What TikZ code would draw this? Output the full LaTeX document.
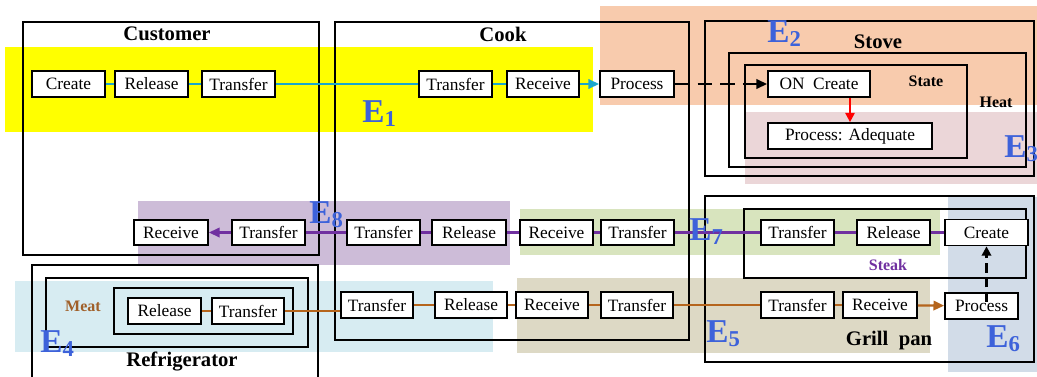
\documentclass[tikz,border=0pt]{standalone}
\usepackage{fontspec}
\setmainfont{Liberation Serif}
\usetikzlibrary{fit,arrows.meta}
\definecolor{cyanl}{HTML}{1AA6CC}
\definecolor{purl}{HTML}{7030A0}
\definecolor{brnl}{HTML}{B5651D}
\definecolor{elab}{HTML}{3D62DA}
\definecolor{bgyel}{HTML}{FFFF00}
\definecolor{bgora}{HTML}{F8CBAD}
\definecolor{bgpink}{HTML}{EBD6D8}
\definecolor{bgpur}{HTML}{CDBCD8}
\definecolor{bggrn}{HTML}{D8E4BE}
\definecolor{bgblu}{HTML}{D7ECF2}
\definecolor{bgtan}{HTML}{DDD9C5}
\definecolor{bggry}{HTML}{D2DCE8}
\definecolor{meatc}{HTML}{A0602A}
\newcommand\elbl[1]{E\raisebox{-0.3ex}{\fontsize{17}{17}\selectfont #1}}
\tikzset{
  pbox/.style={draw, fill=white, line width=1.3pt, inner sep=0pt, font=\fontsize{13}{14}\selectfont},
  wh/.style 2 args={minimum width=#1*0.75pt, minimum height=#2*0.75pt},
  cont/.style={draw, line width=1.3pt, inner sep=0pt},
  ttl/.style={font=\fontsize{15.5}{16}\selectfont\bfseries, inner sep=0pt},
  sttl/.style={font=\fontsize{12}{13}\selectfont\bfseries, inner sep=0pt},
  elabel/.style={font=\fontsize{25}{26}\selectfont\bfseries, text=elab, anchor=base west, inner sep=0pt},
  cyanc/.style={draw=cyanl, line width=1.7pt},
  purc/.style={draw=purl, line width=1.7pt},
  brnc/.style={draw=brnl, line width=1.7pt},
  tip/.style={-{Triangle[length=8pt,width=7pt]}}
}
\begin{document}
\begin{tikzpicture}[x=0.75pt,y=-0.75pt]
\useasboundingbox (0,0) rectangle (1037,376);
% backgrounds
\fill[bgora] (600,6) rectangle (1037,105);
\fill[bgpink] (745,112) rectangle (1037,184);
\fill[bgyel] (5,47) rectangle (593,132);
\fill[bgpur] (138,201) rectangle (510,265);
\fill[bggrn] (520,209) rectangle (940,255);
\fill[bgblu] (15,281) rectangle (493,352);
\fill[bgtan] (517,278) rectangle (930,353);
\fill[bggry] (948,197) rectangle (1037,372);
% containers
\node[cont, fit={(23,22)(319,255)}] (customer) {};
\node[cont, fit={(335,22)(689,340)}] (cook) {};
\node[cont, fit={(705,21)(1034,176)}] (stove) {};
\node[cont, fit={(729,53)(1026,167)}] (heat) {};
\node[cont, fit={(745,65)(967,158)}] (state) {};
\node[cont, fit={(705,196)(1034,362)}] (grill) {};
\node[cont, fit={(744,209)(1026,278)}] (steak) {};
\draw[line width=1.3pt] (32,378) -- (32,265) -- (318,265) -- (318,378);
\node[cont, fit={(46,278)(308,347)}] (meat) {};
\node[cont, fit={(114,288)(293,334)}] (meatin) {};
% row 1
\node[pbox, wh={73}{26}] (a1) at (68.5,84) {Create};
\node[pbox, wh={73}{26}] (a2) at (151.5,84) {Release};
\node[pbox, wh={73}{26}] (a3) at (238.5,84) {Transfer};
\node[pbox, wh={73}{26}] (a4) at (455.5,84) {Transfer};
\node[pbox, wh={72}{26}] (a5) at (543,84) {Receive};
\node[pbox, wh={74}{26}] (a6) at (637,84) {Process};
\node[pbox, wh={102}{26}] (onc) at (819,84) {ON\ \ Create};
\node[pbox, wh={164}{26}] (pad) at (850,136) {Process: Adequate};
% row 2
\node[pbox, wh={74}{25}] (b1) at (171,232.5) {Receive};
\node[pbox, wh={73}{25}] (b2) at (268.5,232.5) {Transfer};
\node[pbox, wh={73}{25}] (b3) at (383.5,232.5) {Transfer};
\node[pbox, wh={74}{25}] (b4) at (469,232.5) {Release};
\node[pbox, wh={73}{25}] (b5) at (556.5,232.5) {Receive};
\node[pbox, wh={73}{25}] (b6) at (637.5,232.5) {Transfer};
\node[pbox, wh={73}{25}] (b7) at (797.5,232.5) {Transfer};
\node[pbox, wh={73}{25}] (b8) at (893.5,232.5) {Release};
\node[pbox, wh={83}{26}] (b9) at (986.5,232.5) {Create};
% row 3
\node[pbox, wh={73}{26}] (c1) at (164.5,311) {Release};
\node[pbox, wh={72}{26}] (c2) at (248,311) {Transfer};
\node[pbox, wh={72}{26}] (c3) at (377,305) {Transfer};
\node[pbox, wh={72}{26}] (c4) at (471,305) {Release};
\node[pbox, wh={72}{26}] (c5) at (552,305) {Receive};
\node[pbox, wh={72}{26}] (c6) at (637,305) {Transfer};
\node[pbox, wh={73}{26}] (c7) at (797.5,305) {Transfer};
\node[pbox, wh={74}{26}] (c8) at (880,305) {Receive};
\node[pbox, wh={73}{26}] (c9) at (981.5,306) {Process};
% connectors row 1
\draw[cyanc] (a1) -- (a2);
\draw[cyanc] (a2) -- (a3);
\draw[cyanc] (a3) -- (a4);
\draw[cyanc] (a4) -- (a5);
\draw[cyanc, tip] (a5) -- (a6);
\draw[line width=1.7pt, dash pattern=on 11pt off 6pt, tip] (a6) -- (onc);
\draw[red, line width=1.5pt, -{Triangle[length=7pt,width=7pt]}] (onc.south -| pad.north) -- (pad.north);
% connectors row 2
\draw[purc] (b9) -- (b8);
\draw[purc] (b8) -- (b7);
\draw[purc] (b7) -- (b6);
\draw[purc] (b6) -- (b5);
\draw[purc] (b5) -- (b4);
\draw[purc] (b4) -- (b3);
\draw[purc] (b3) -- (b2);
\draw[purc, tip] (b2) -- (b1);
% connectors row 3
\draw[brnc] (c1) -- (c2);
\draw[brnc] (c2.east) -- (c2.east -| c3.west);
\draw[brnc] (c3) -- (c4);
\draw[brnc] (c4) -- (c5);
\draw[brnc] (c5) -- (c6);
\draw[brnc] (c6) -- (c7);
\draw[brnc] (c7) -- (c8);
\draw[brnc, tip] (c8) -- (c9);
\draw[line width=1.7pt, dash pattern=on 7pt off 4pt, -{Triangle[length=7pt,width=7pt]}] ([yshift=-7.5pt]c9.north -| b9.south) -- (b9.south);
% titles
\node[ttl] (tcust) at (167,34) {Customer};
\node[ttl] (tcook) at (503,34) {Cook};
\node[ttl] (tstove) at (878,42) {Stove};
\node[sttl] (tstate) at (926,81) {State};
\node[sttl] (theat) at (996,102) {Heat};
\node[sttl, text=purl] (tsteak) at (888,265) {Steak};
\node[ttl] (tgrill) at (889,341) {Grill\ \ pan};
\node[sttl, text=meatc] (tmeat) at (83,306) {Meat};
\node[ttl] (tfridge) at (182,361) {Refrigerator};
% E labels
\node[elabel] (e1) at (362,122) {\elbl{1}};
\node[elabel] (e2) at (767,42) {\elbl{2}};
\node[elabel] (e3) at (1004,157) {\elbl{3}};
\node[elabel] (e4) at (40,352) {\elbl{4}};
\node[elabel] (e5) at (706,342) {\elbl{5}};
\node[elabel] (e6) at (986,347) {\elbl{6}};
\node[elabel] (e7) at (689,240) {\elbl{7}};
\node[elabel] (e8) at (309,223) {\elbl{8}};
\end{tikzpicture}
\end{document}
